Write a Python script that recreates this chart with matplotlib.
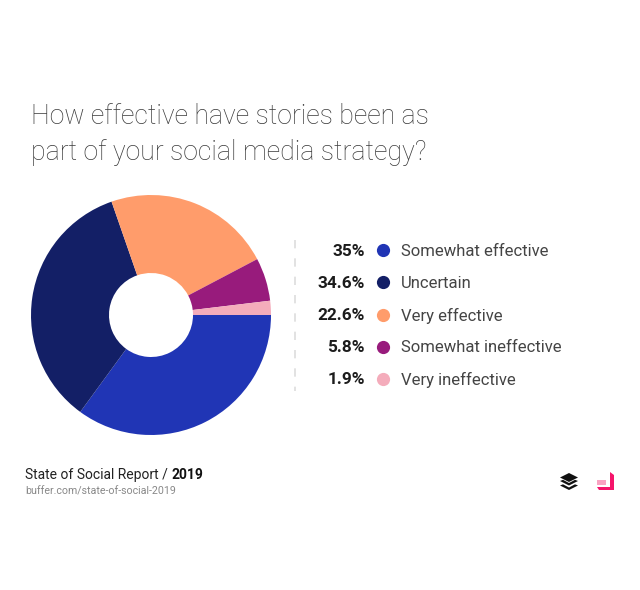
import matplotlib
matplotlib.use("Agg")
import matplotlib.pyplot as plt
from matplotlib.patches import Polygon

plt.rcParams["font.family"] = ["Roboto", "DejaVu Sans"]

# chart data
labels = ["Somewhat effective", "Uncertain", "Very effective", "Somewhat ineffective", "Very ineffective"]
values = [35, 34.6, 22.6, 5.8, 1.9]
value_labels = ["35%", "34.6%", "22.6%", "5.8%", "1.9%"]
colors = ["#2035b5", "#131f66", "#ff9c6b", "#981b7c", "#f4acbb"]

W, H = 640, 590
fig = plt.figure(figsize=(W / 100, H / 100), dpi=100, facecolor="white")

# overlay in pixel coordinates for the text and legend
bg = fig.add_axes([0, 0, 1, 1])
bg.set_xlim(0, W)
bg.set_ylim(H, 0)
bg.axis("off")

# donut
cx, cy, r = 151, 315, 120
ax = fig.add_axes([(cx - r) / W, 1 - (cy + r) / H, 2 * r / W, 2 * r / H])
ax.pie(values, colors=colors, startangle=0, counterclock=False, radius=1,
       wedgeprops={"width": 0.65, "linewidth": 0})
ax.set_xlim(-1, 1)
ax.set_ylim(-1, 1)

# title
title_color = "#3a3a3a"
bg.text(31, 116.5, "How effective have stories been as", fontsize=19.2, fontweight="light",
        color=title_color, va="center", ha="left")
bg.text(31, 152.5, "part of your social media strategy?", fontsize=19.2, fontweight="light",
        color=title_color, va="center", ha="left")

# legend
bg.plot([295, 295], [240, 391], color="#dddddd", linewidth=1.2, linestyle=(0, (5, 6)))
rows = [250, 282, 315, 347, 379]
for y, name, val, col in zip(rows, labels, value_labels, colors):
    bg.text(365, y + 1, val, fontsize=12.4, fontweight="bold", color="#1c1c1c", ha="right", va="center")
    bg.plot(383, y, "o", color=col, markersize=9.5, markeredgewidth=0)
    bg.text(401, y + 1, name, fontsize=12, color="#444444", ha="left", va="center")

# footer
t = bg.text(25, 475, "State of Social Report /", fontsize=10, color="#222222", va="center", ha="left")
fig.canvas.draw()
box = t.get_window_extent()
bg.text(box.x1 + 4, 475, "2019", fontsize=10, fontweight="bold", color="#111111", va="center", ha="left")
bg.text(25, 491.5, "buffer.com/state-of-social-2019", fontsize=7.7, color="#888888", va="center", ha="left")

# buffer logo
lx, ly = 569, 482
bg.add_patch(Polygon([(lx, ly - 9), (lx + 9, ly - 4.5), (lx, ly), (lx - 9, ly - 4.5)], color="#111111", lw=0))
for dy in [0, 4.5]:
    bg.add_patch(Polygon([(lx - 9, ly - 1 + dy), (lx - 6, ly - 2.2 + dy), (lx, ly + 1 + dy), (lx + 6, ly - 2.2 + dy),
                          (lx + 9, ly - 1 + dy), (lx, ly + 3.5 + dy)], color="#111111", lw=0))

# pink logo
pink = "#f5156b"
bg.add_patch(Polygon([(610, 472), (614, 475), (614, 490), (599, 490), (597, 487), (610, 487)], color=pink, lw=0))
bg.fill([597, 606, 606, 597], [480, 480, 485, 485], color="#f9a3c2", lw=0)

fig.savefig("out.png", dpi=100, facecolor="white")
